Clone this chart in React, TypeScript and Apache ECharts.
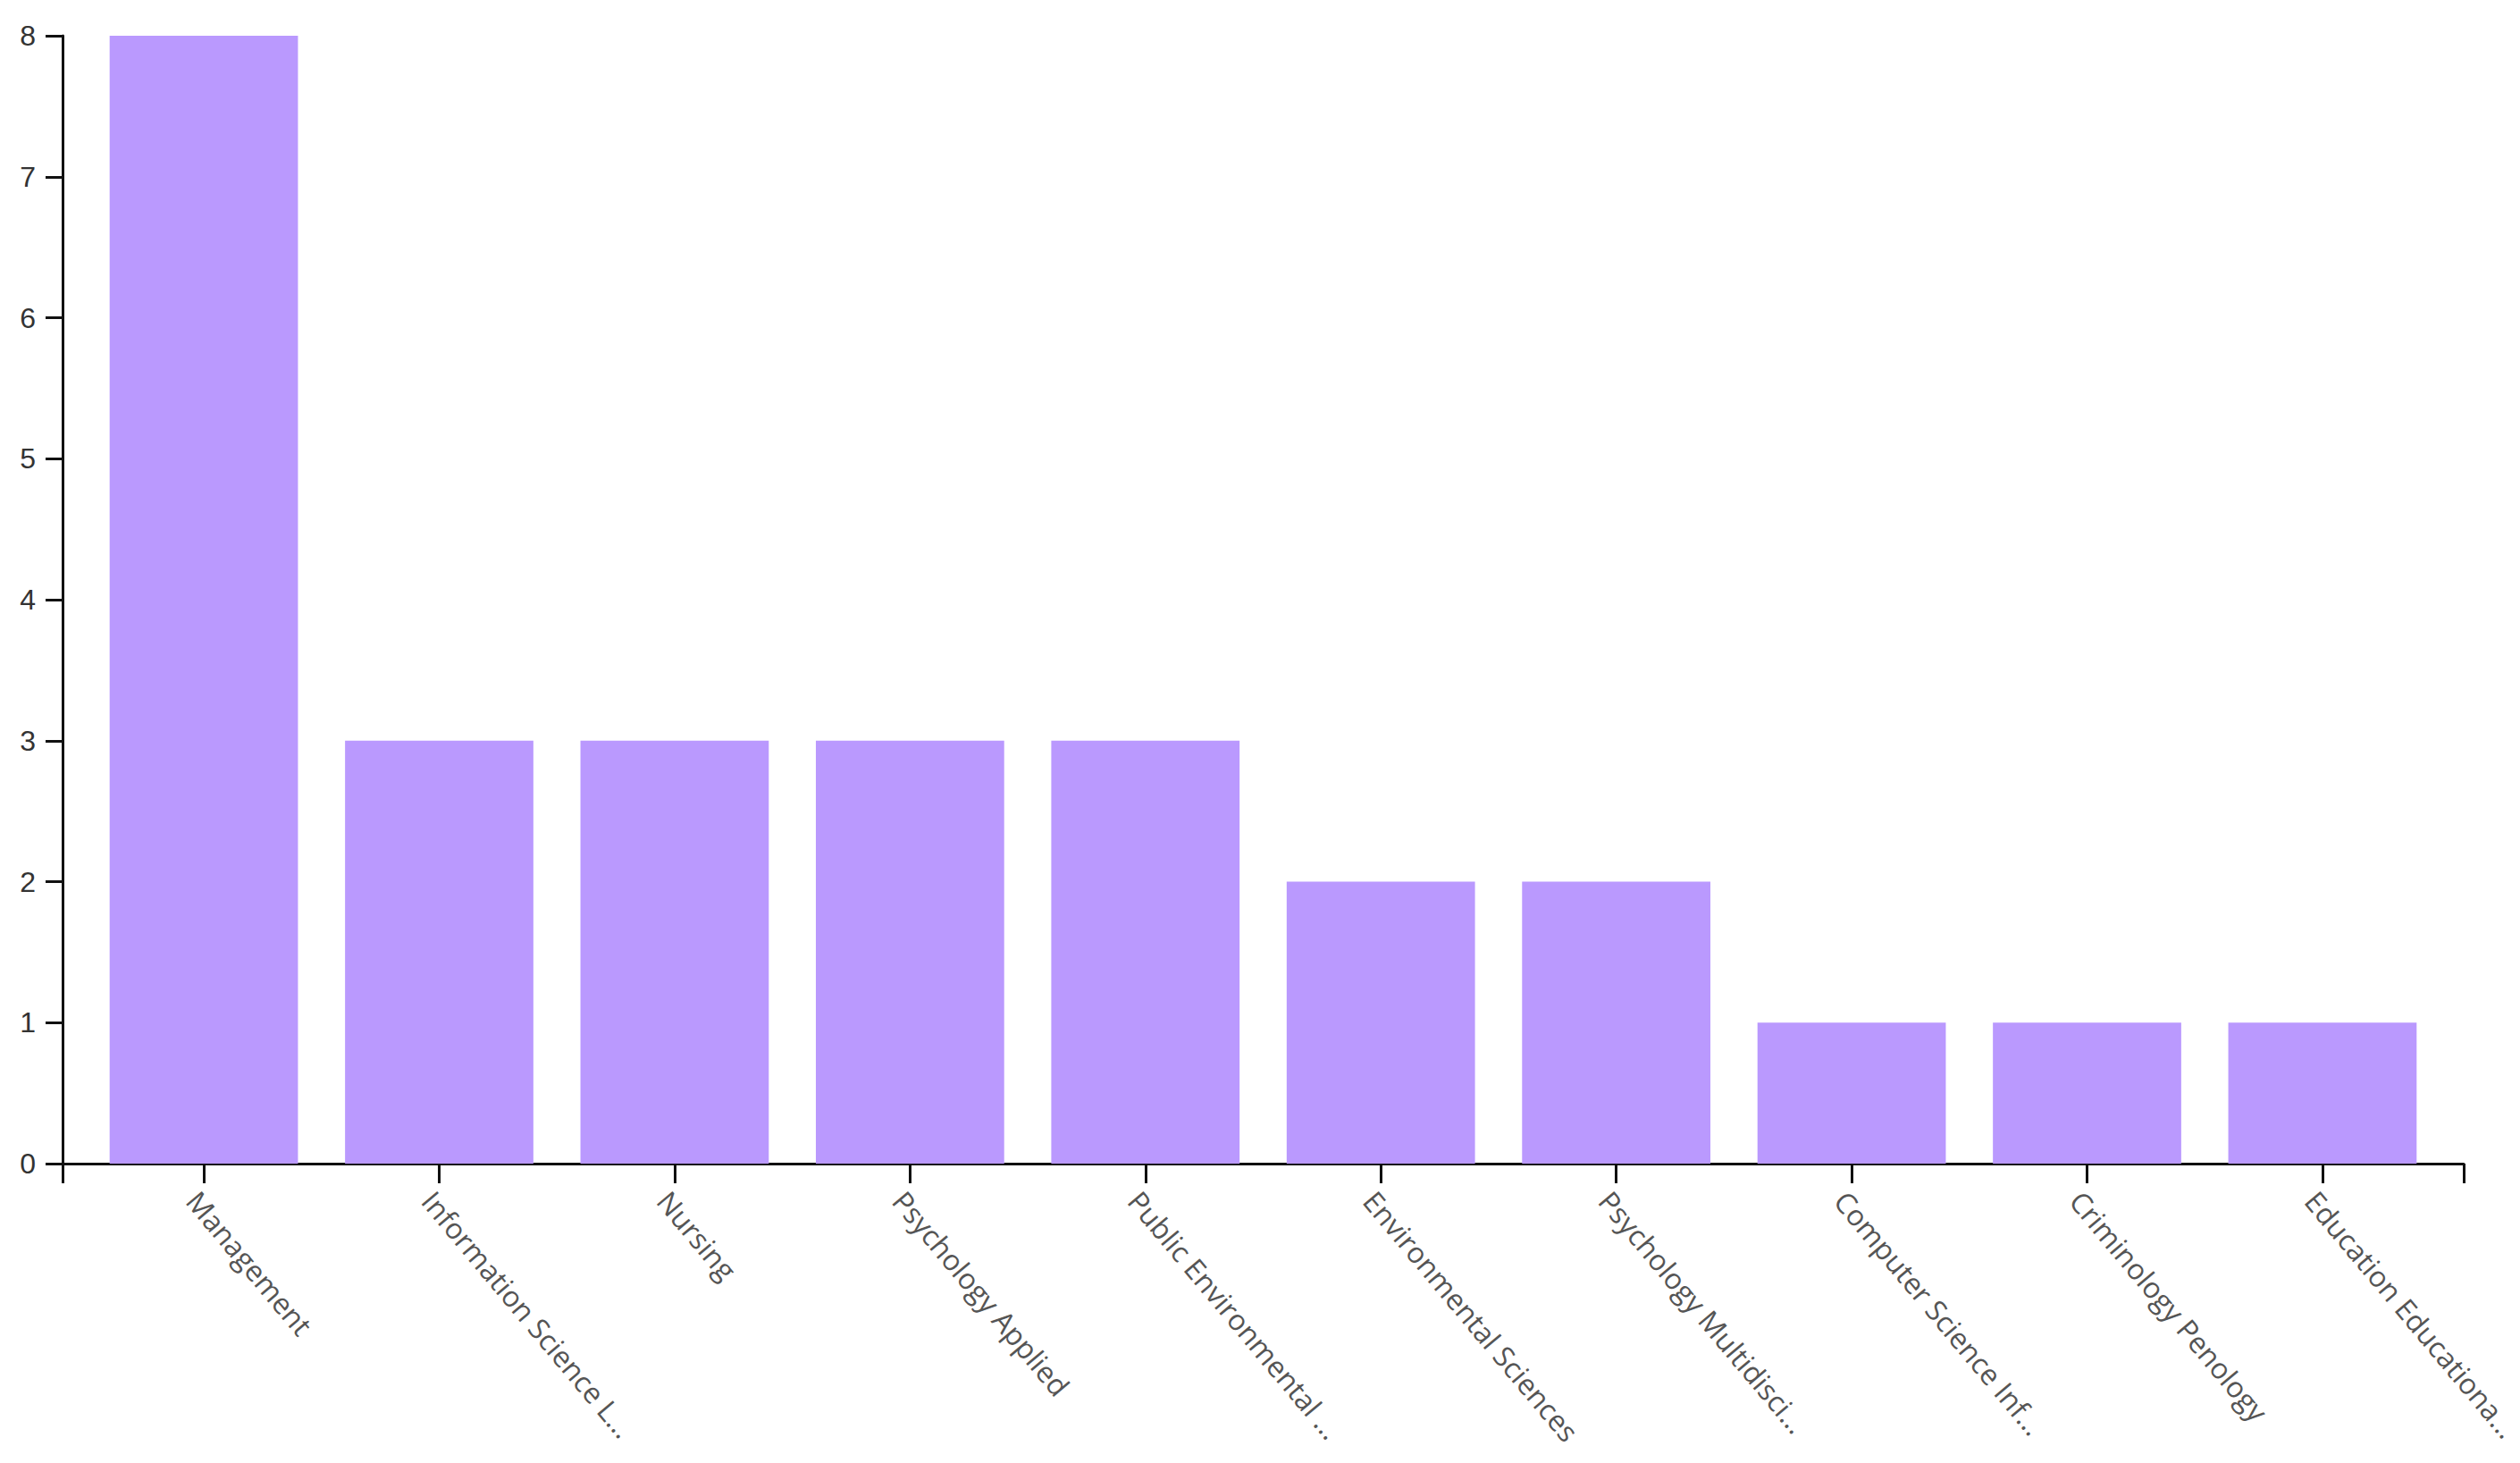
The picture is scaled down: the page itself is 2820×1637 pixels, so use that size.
import React, { useEffect, useRef } from "react";
import * as echarts from "echarts";

const categories = [
  "Management",
  "Information Science L...",
  "Nursing",
  "Psychology Applied",
  "Public Environmental ...",
  "Environmental Sciences",
  "Psychology Multidisci...",
  "Computer Science Inf...",
  "Criminology Penology",
  "Education Educationa...",
];
const values = [8, 3, 3, 3, 3, 2, 2, 1, 1, 1];
const yTicks = [0, 1, 2, 3, 4, 5, 6, 7, 8];

const W = 2820;
const H = 1637;
// axis frame
const axisLeft = 70;
const axisRight = 2757;
const axisTop = 40;
const axisBottom = 1302;
// band step with d3-like outer padding (0.2 inner / 0.2 outer)
const step = (axisRight - axisLeft) / (categories.length - 0.2 + 0.4);
const barLeft = axisLeft + step * 0.1;
const barRight = axisRight - step * 0.1;

export default function App() {
  const ref = useRef<HTMLDivElement>(null);
  useEffect(() => {
    if (!ref.current) return;
    const chart = echarts.init(ref.current, undefined, { renderer: "svg" });
    const axisColor = "#111";
    chart.setOption({
      animation: false,
      backgroundColor: "#ffffff",
      grid: [
        {
          left: barLeft,
          right: W - barRight,
          top: axisTop,
          bottom: H - axisBottom,
          containLabel: false,
          outerBoundsMode: "none",
        },
        {
          left: axisLeft,
          right: W - axisRight,
          top: axisTop,
          bottom: H - axisBottom,
          containLabel: false,
          outerBoundsMode: "none",
        },
      ],
      xAxis: [
        {
          type: "category",
          gridIndex: 0,
          data: categories,
          axisLine: { show: false },
          axisTick: {
            show: true,
            alignWithLabel: true,
            length: 22,
            lineStyle: { color: axisColor, width: 3 },
          },
          axisLabel: {
            interval: 0,
            rotate: -50,
            margin: 25,
            verticalAlign: "top",
            fontFamily: "'Open Sans', sans-serif",
            fontSize: 32,
            color: "#555",
          },
          splitLine: { show: false },
        },
        {
          type: "value",
          gridIndex: 1,
          min: 0,
          max: 1,
          interval: 1,
          axisLine: { show: true, lineStyle: { color: axisColor, width: 3 } },
          axisTick: { show: true, length: 22, lineStyle: { color: axisColor, width: 3 } },
          axisLabel: { show: false },
          splitLine: { show: false },
        },
      ],
      yAxis: [
        {
          type: "value",
          gridIndex: 0,
          min: 0,
          max: 8,
          interval: 1,
          show: false,
          splitLine: { show: false },
        },
        {
          type: "value",
          gridIndex: 1,
          min: yTicks[0],
          max: yTicks[yTicks.length - 1],
          interval: 1,
          axisLine: { show: true, lineStyle: { color: axisColor, width: 3 } },
          axisTick: { show: true, length: 19, lineStyle: { color: axisColor, width: 3 } },
          axisLabel: {
            margin: 30,
            fontFamily: "'Liberation Sans Narrow', 'Liberation Sans', Arial, sans-serif",
            fontSize: 32,
            color: "#333",
          },
          splitLine: { show: false },
        },
      ],
      series: [
        {
          type: "bar",
          xAxisIndex: 0,
          yAxisIndex: 0,
          data: values,
          barCategoryGap: "20%",
          itemStyle: { color: "#ba99fe" },
        },
      ],
    });
    return () => chart.dispose();
  }, []);
  return (
    <div
      ref={ref}
      style={{ position: "absolute", left: 0, top: 0, width: W, height: H }}
    />
  );
}
